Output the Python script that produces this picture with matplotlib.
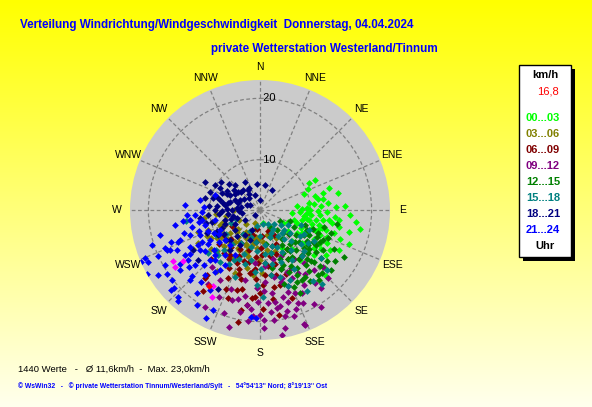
import numpy as np
import matplotlib
matplotlib.use('Agg')
import matplotlib.pyplot as plt
from matplotlib.patches import Rectangle

W, H = 592, 407
FONT = ['Liberation Sans', 'DejaVu Sans']
plt.rcParams['font.family'] = FONT

# --- data: (Windrichtung in Grad, Geschwindigkeit km/h), nach Uhrzeit ---
pts_00_03 = [(61,11.0),(79,11.4),(84,13.0),(84,7.9),(96,7.1),(102,15.0),(120,15.0),(135,17.0),(101,18.4),
             (95,11.6),(87,15.7),(61,12.0),(141,12.2),(119,6.1),(167,4.0),(70,9.5),(75,12.5),(90,10.0),
             (92,12.8),(98,9.0),(105,10.5),(108,12.0),(110,8.2),(112,13.5),(115,10.0),(118,11.8),(122,9.0),
             (125,12.5),(128,10.5),(100,13.8),(88,14.2),(93,16.5),(97,14.8),(104,16.8),(110,15.6),(116,14.0),
             (124,14.8),(130,13.2),(132,16.0),(106,7.5),(113,6.8),(127,7.6),(134,9.0),(140,10.0),(145,11.5),
             (150,9.0),(82,9.8),(78,14.8),(72,13.6),(66,10.4),(100,11.0),(103,8.8),(96,10.2),(89,8.6),
             (86,11.8),(109,10.8),(114,9.2),(120,13.0),(126,11.0),
             (94,9.5),(99,12.2),(102,10.0),(107,13.0),(111,11.5),(117,10.6),(121,12.3),(104,11.8),(98,13.2),
             (91,11.2),(87,9.4),(95,14.0),(107,14.5),(113,12.4),(119,9.6),(123,13.6),(101,9.6),(106,12.3),
             (93,8.4),(84,10.6),(80,12.2),(76,11.0),(117,16.2),(111,17.3),(97,17.6)]
pts_03_06 = [(190,6.7),(247,8.0),(249,10.9),(249,8.8),(242,13.2),(201.6,12.9),(200,8.0),(210,9.0),(220,7.5),
             (230,6.5),(235,9.5),(240,11.0),(255,9.5),(260,7.5),(265,9.0),(215,11.0),(205,10.5),(195,9.5),
             (185,8.0),(180,10.0),(175,7.0),(170,8.5),(165,6.0),(225,10.0),(232,12.0),(212,6.0),(196,5.0),
             (250,12.5),(238,7.0),(228,8.8),(218,8.5),(207,7.0),(193,11.5),(186,12.5),(178,12.0),(160,9.0),
             (150,7.0),(200,4.0),(225,5.0),(245,5.5),(270,6.0),(262,11.0),(240,14.5),(215,14.0),
             (188,6.2),(192,7.5),(197,8.8),(203,7.8),(208,9.2),(213,8.0),(218,10.0),(222,9.2),(227,7.0),
             (233,8.0),(237,10.2),(243,9.0),(205,6.5),(195,6.8),(182,6.5),(176,9.0),(212,10.8),(226,11.5),
             (244,11.5),(252,8.2)]
pts_06_09 = [(219,16.0),(183,16.0),(191,18.4),(170,19.2),(191,20.4),(185,16.2),(180,15.3),(219,15.5),
             (213.7,10.6),(189,12.2),(196,15.4),(200,12.0),(205,10.0),(210,8.0),(195,8.5),(185,9.5),(175,10.5),
             (170,12.5),(165,11.0),(160,9.5),(155,8.0),(150,6.5),(160,5.5),(175,6.0),(190,5.0),(200,6.0),
             (215,6.5),(225,8.5),(230,10.5),(225,13.0),(205,14.0),(195,13.5),(178,14.0),(172,16.5),(165,14.5),
             (158,13.0),(150,11.0),(145,9.5),(140,12.0),(178,8.0),(185,11.5),(198,10.5),(208,12.5),(220,11.0),
             (235,9.0),(240,7.0),(178,18.0),(188,17.5),(200,17.0),(160,17.0),(130,8.0),(215,18.0),
             (162,8.0),(168,9.5),(172,11.0),(177,9.2),(182,10.5),(187,12.0),(192,10.5),(198,12.8),(203,11.2),
             (207,9.0),(212,11.2),(218,9.5),(183,13.0),(176,12.5),(166,12.8),(170,14.5),(193,15.0),(203,15.8),
             (188,7.0),(195,6.0)]
pts_09_12 = [(158.6,22.0),(173,19.9),(195,21.6),(210,15.0),(132,15.7),(159,21.7),(209.5,20.0),(199,19.6),
             (197,17.2),(170,18.0),(165,16.5),(160,15.0),(155,14.0),(150,16.0),(145,14.5),(140,13.0),(155,18.5),
             (162,20.0),(168,21.5),(175,17.0),(180,19.0),(185,18.0),(190,16.0),(182,14.5),(176,13.5),(168,13.0),
             (160,12.0),(152,12.5),(145,11.5),(138,15.0),(135,17.5),(150,19.5),(165,18.8),(172,15.5),(186,20.0),
             (192,13.5),(200,15.5),(205,17.5),(215,16.5),(220,14.0),(175,11.0),(165,10.0),(185,10.5),(155,10.0),
             (148,20.5),(142,18.0),(178,21.0),(170,22.5),(163,17.5),(157,16.5),
             (153,17.0),(158,18.2),(161,16.0),(164,14.0),(167,19.6),(171,17.0),(174,18.6),(177,15.0),(181,16.8),
             (184,19.2),(188,17.5),(191,18.8),(194,16.8),(178,19.8),(168,17.8),(162,13.5),(156,12.8),(149,13.8),
             (143,16.8),(160,19.0)]
pts_12_15 = [(115,12.1),(132,12.3),(149,15.2),(145,16.0),(135.5,16.2),(154,16.8),(115.5,13.2),(110,11.0),
             (120,10.0),(125,9.0),(130,8.0),(135,7.0),(140,6.0),(145,9.5),(150,11.0),(155,13.0),(160,12.0),
             (140,13.5),(128,14.5),(122,14.0),(118,15.5),(112,13.8),(105,12.6),(100,14.5),(108,9.5),(116,8.0),
             (126,11.5),(138,10.5),(142,12.0),(148,8.5),(152,9.8),(158,10.5),(165,9.0),(162,14.5),(156,15.5),
             (134,14.0),(130,17.0),(124,16.6),(119,17.5),(140,16.8),(146,11.0),(136,12.8),(129,10.0),(121,11.8),
             (113,10.2),(150,14.0),(168,11.5),(170,7.5),(160,6.5),(150,5.0),(120,5.5),(110,7.0),
             (118,12.8),(123,11.0),(127,13.2),(131,11.2),(133,9.5),(137,11.8),(141,14.5),(144,10.0),(147,13.0),
             (151,12.2),(153,15.0),(157,11.5),(127,15.5),(122,12.6),(133,15.2),(139,9.2),(143,7.8),(117,10.8),
             (112,12.0),(108,14.0),(135,13.5),(129,12.0),(146,15.0),(138,16.0)]
pts_15_18 = [(261.5,14.0),(230,12.8),(228,11.5),(222,10.5),(220,9.0),(223,11.8),(218,12.5),(210,8.0),(200,9.5),
             (195,11.0),(182,14.0),(185,12.0),(190,10.0),(175,10.5),(170,12.5),(163,13.2),(160,15.0),(157,14.2),
             (150,13.0),(143,16.2),(138,12.0),(130,10.5),(124,11.3),(128,14.5),(135,9.0),(140,8.0),(145,7.0),
             (155,8.5),(160,6.5),(165,9.0),(172,7.5),(180,6.0),(188,7.0),(198,6.5),(205,5.5),(215,6.5),(235,8.5),
             (240,10.0),(245,7.0),(250,6.0),(110,9.0),(118,7.0),(125,6.0),(135,5.0),(150,4.5),(170,4.2),(190,4.5),
             (120,12.0),(112,10.5),(132,16.5),(140,17.5),(150,17.0),(178,16.0),(200,13.5),(210,12.0),
             (127,8.0),(133,11.5),(137,7.0),(142,10.0),(147,11.5),(152,9.5),(158,11.0),(162,8.0),(167,10.8),
             (174,9.0),(179,11.5),(184,8.5),(193,8.0),(203,10.5),(208,11.0),(154,6.0),(145,5.5),(130,7.0),
             (123,9.5),(118,10.0)]
pts_18_21 = [(296.6,7.3),(296.6,5.4),(284,8.5),(270,9.1),(254,7.7),(231,7.0),(236,4.7),(296.6,3.6),(341.6,4.4),
             (329,5.6),(315,7.5),(299,9.3),(284,9.7),(256,9.9),(239,9.8),(225,8.7),(210,8.3),(202,5.3),
             (297,11.9),(305.7,9.6),(353,6.1),(31,5.6),(296,7.8),(264.5,10.3),(231,14.8),(208,16.3),(239,14.5),
             (278,7.5),(270,6.4),(260.5,4.8),(225,3.0),(309,6.4),(332,7.0),(299,10.2),(290,10.5),(245,8.7),
             (211,6.5),(216.9,10.0),(198,7.0),(0,3.4),(11,6.0),(262,11.7),(275,5.5),(285,6.8),(290,4.0),(305,5.0),
             (318,4.5),(250,5.8),(242,6.5),(262,7.0),(268,8.0),(280,8.0),(292,6.2),(300,8.0),(310,8.5),(320,6.0),
             (258,6.3),(264,8.6),(272,7.2),(276,8.8),(282,7.2),(287,9.2),(294,8.6),(302,6.6),(307,7.2),(313,6.0),
             (325,5.0),(334,5.8),(288,5.6),(280,5.0),(266,5.2),(252,6.8),(248,8.0),(244,9.6),(236,8.8),(229,9.2),
             (222,7.5),(256,10.8),(274,10.2),(282,10.9),(247,11.2)]
pts_21_24 = [(273,11.0),(248.7,16.2),(246.6,23.0),(245,22.0),(240.5,23.0),(245.7,20.0),(237.5,21.5),(246.7,18.3),
             (235.5,20.2),(231.5,20.1),(227.8,20.7),(223,21.3),(213.5,20.4),(206.6,21.5),(235,16.1),(228,21.4),
             (222,21.7),(217,18.8),(205,19.8),(185,19.3),(182,19.5),(243.4,9.1),(254.7,11.1),(250.3,13.9),
             (236.3,13.5),(225,12.2),(212.5,12.4),(239,16.1),(229.8,15.7),(239,11.3),(220.6,9.3),(249.4,15.7),
             (260,15.8),(265.6,12.4),(273.8,14.0),(279.5,11.7),(213.7,13.6),(220.2,15.7),(246,17.9),(240,19.7),
             (233,18.1),(225,18.0),(212,17.2),(209,10.2),(257.5,9.3),(247.4,12.4),(256,18.6),(252,20.3),
             (247.3,22.1),(225,13.3),(229.4,9.3),(261.9,13.3),(240.6,13.4),(288,9.5),(260,11.4),(248,18.5),
             (232,10.3),(237,11.9),(241,12.6),(244,10.2),(248,11.0),(251,12.3),(253,14.8),(256,13.2),(259,12.0),
             (262,14.5),(266,13.8),(242,14.8),(238,15.2),(233,13.0),(229,11.8),(226,14.6),(222,12.8),(218,11.2),
             (216,14.3),(244,16.8),(250,17.2),(236,17.5),(231,16.7),(226,17.2),(219,17.0),(240,9.6),(268,11.2)]
pts_magenta = [(239.6,18.3),(236,18.5),(236.5,16.9),(211.7,16.4),(209,18.1)]
pts_aktuell = [(214,16.8)]

gruppen = ['00...03', '03...06', '06...09', '09...12', '12...15', '15...18', '18...21', '21...24']
farben = ['#00FF00', '#808000', '#800000', '#800080', '#008000', '#008080', '#000080', '#0000FF']
punkte = [pts_00_03, pts_03_06, pts_06_09, pts_09_12, pts_12_15, pts_15_18, pts_18_21, pts_21_24]
richtungen = ['N', 'NNE', 'NE', 'ENE', 'E', 'ESE', 'SE', 'SSE',
              'S', 'SSW', 'SW', 'WSW', 'W', 'WNW', 'NW', 'NNW']

fig = plt.figure(figsize=(W / 100, H / 100), dpi=100)

# background gradient
bg = fig.add_axes([0, 0, 1, 1])
grad = np.linspace(0, 1, 256)[:, None]
img = np.zeros((256, 2, 3))
img[..., 0] = 1.0
img[..., 1] = 1.0
img[..., 2] = (grad * 0.93)
bg.imshow(img, aspect='auto', extent=[0, 1, 0, 1], origin='upper')
bg.axis('off')

def fx(x):
    return x / W

def fy(y):
    return 1 - y / H

# polar plot
cx, cy, R = 260, 210, 130
ax = fig.add_axes([fx(cx - R), fy(cy + R), 2 * R / W, 2 * R / H], projection='polar')
ax.set_theta_zero_location('N')
ax.set_theta_direction(-1)
ax.set_ylim(1.8, 23.0)
ax.set_facecolor('#CBCBCB')
ax.spines['polar'].set_visible(False)
ax.set_rticks([10, 20])
ax.set_yticklabels([])
ax.set_thetagrids(np.arange(0, 360, 22.5), [''] * 16)
ax.grid(color='#808080', linestyle=(0, (3, 2)), linewidth=0.9)
for r in (10, 20):
    ax.text(0, r, ' %d' % r, ha='left', va='center', fontsize=8)
for i, lab in enumerate(richtungen):
    ax.text(np.deg2rad(i * 22.5), 25.1, lab, ha='center', va='center', fontsize=7.5, clip_on=False)

for pts, col in zip(punkte, farben):
    d = np.deg2rad([p[0] for p in pts])
    v = [p[1] for p in pts]
    ax.scatter(d, v, marker='D', s=12, c=col, linewidths=0, zorder=3)
for pts, col in ((pts_magenta, '#FF00FF'), (pts_aktuell, '#FF0000')):
    ax.scatter(np.deg2rad([p[0] for p in pts]), [p[1] for p in pts], marker='D', s=12, c=col,
               linewidths=0, zorder=4)

# titles
fig.text(fx(20), fy(25), 'Verteilung Windrichtung/Windgeschwindigkeit  Donnerstag, 04.04.2024',
         color='#0000FF', fontsize=8.4, fontweight='bold', ha='left', va='center')
fig.text(fx(211), fy(49), 'private Wetterstation Westerland/Tinnum',
         color='#0000FF', fontsize=8.4, fontweight='bold', ha='left', va='center')

# legend box with shadow
fig.patches.append(Rectangle((fx(523), fy(261)), 52 / W, 192 / H, transform=fig.transFigure,
                             facecolor='black', edgecolor='none', zorder=1))
fig.patches.append(Rectangle((fx(519), fy(257)), 52 / W, 192 / H, transform=fig.transFigure,
                             facecolor='white', edgecolor='black', linewidth=1, zorder=2))
fig.text(fx(545), fy(75), 'km/h', fontsize=8, fontweight='bold', ha='center', va='center', zorder=3)
fig.text(fx(548), fy(92), '16,8', fontsize=8, color='#FF0000', ha='center', va='center', zorder=3)
for i, (lab, col) in enumerate(zip(gruppen, farben)):
    fig.text(fx(526), fy(118 + 16 * i), lab, fontsize=8, fontweight='bold', color=col,
             ha='left', va='center', zorder=3)
fig.text(fx(545), fy(246), 'Uhr', fontsize=8, fontweight='bold', ha='center', va='center', zorder=3)

# footer
fig.text(fx(18), fy(369), '1440 Werte   -   \u00d8 11,6km/h  -  Max. 23,0km/h', fontsize=6.8,
         ha='left', va='center')
fig.text(fx(18), fy(386), '\u00a9 WsWin32   -   \u00a9 private Wetterstation Tinnum/Westerland/Sylt   -   '
         "54\u00b054'13'' Nord; 8\u00b019'13'' Ost", fontsize=4.85, fontweight='bold', color='#0000FF',
         ha='left', va='center')

fig.savefig('out.png', dpi=100)
